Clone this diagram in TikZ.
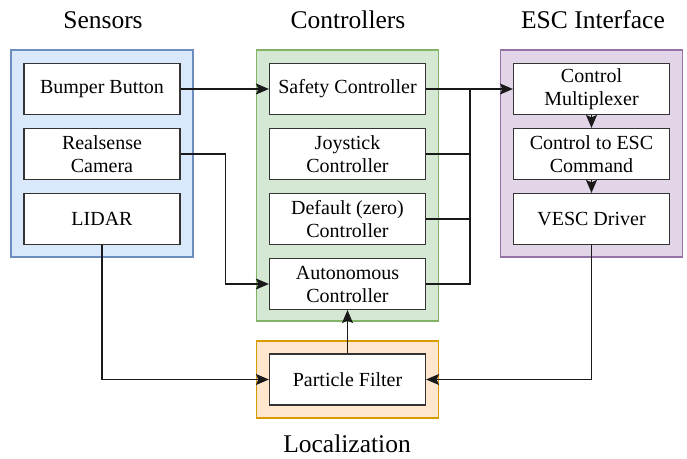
\documentclass[tikz,border=0pt]{standalone}
\usepackage{fontspec}
\setmainfont{Liberation Serif}
\usetikzlibrary{arrows.meta, positioning}
\definecolor{sensfill}{HTML}{DAE8FC}
\definecolor{sensline}{HTML}{6C8EBF}
\definecolor{ctrlfill}{HTML}{D5E8D4}
\definecolor{ctrlline}{HTML}{82B366}
\definecolor{escfill}{HTML}{E1D5E7}
\definecolor{escline}{HTML}{9673A6}
\definecolor{locfill}{HTML}{FFE6CC}
\definecolor{locline}{HTML}{D79B00}
\tikzset{
	group/.style={draw=#1line, fill=#1fill, line width=1.2pt, minimum width=182pt, inner sep=0pt},
	block/.style={draw=black!80, fill=white, line width=1.2pt, minimum width=156pt, minimum height=51pt, inner sep=0pt, align=center, font=\fontsize{20}{23}\selectfont},
	grouptitle/.style={font=\fontsize{25.5}{30}\selectfont},
	wire/.style={draw=black!90, line width=1.2pt},
	arrow/.style={wire, -{Stealth[length=13pt, width=11pt, inset=2.5pt]}}
}

\begin{document}
\begin{tikzpicture}[x=1pt, y=-1pt]
		\useasboundingbox (0,0) rectangle (687,458);
			%groups:
			\node[group=sens, minimum height=207pt] (sensors) at (102,153.5) {};
			\node[group=ctrl, minimum height=271pt] (controllers) at (347.5,185.5) {};
			\node[group=esc, minimum height=207pt] (escif) at (591.5,153.5) {};
			\node[group=loc, minimum height=77pt] (localization) at (347.5,379.5) {};

			\node[grouptitle] (senstitle) at (103,20) {Sensors};
			\node[grouptitle] (ctrltitle) at (348,20) {Controllers};
			\node[grouptitle] (esctitle) at (593,20) {ESC Interface};
			\node[grouptitle] (loctitle) at (347,444) {Localization};

			%sensors:
			\node[block] (bumper) at (102,89) {Bumper Button};
			\node[block] (realsense) at (102,154) {Realsense\\Camera};
			\node[block] (lidar) at (102,219) {LIDAR};

			%controllers:
			\node[block] (safety) at (347.5,89) {Safety Controller};
			\node[block] (joystick) at (347.5,154) {Joystick\\Controller};
			\node[block] (default) at (347.5,219) {Default (zero)\\Controller};
			\node[block] (autonomous) at (347.5,284) {Autonomous\\Controller};

			%esc interface:
			\node[block] (mux) at (591.5,89) {Control\\Multiplexer};
			\node[block] (toesc) at (591.5,154) {Control to ESC\\Command};
			\node[block] (vesc) at (591.5,219) {VESC Driver};

			%localization:
			\node[block] (particle) at (347.5,379.5) {Particle Filter};

			%connections:
			\coordinate (join) at (470,89);
			\draw[arrow] (bumper) -- (safety);
			\draw[arrow] (realsense.east) -- ++(45,0) |- (autonomous.west);
			\draw[arrow] (safety) -- (mux);
			\draw[wire] (joystick.east) -| (join);
			\draw[wire] (default.east) -| (join);
			\draw[wire] (autonomous.east) -| (join);
			\draw[arrow] (mux) -- (toesc);
			\draw[arrow] (toesc) -- (vesc);
			\draw[arrow] (lidar) |- (particle);
			\draw[arrow] (vesc) |- (particle);
			\draw[arrow] (particle) -- (autonomous);
	\end{tikzpicture}
\end{document}
